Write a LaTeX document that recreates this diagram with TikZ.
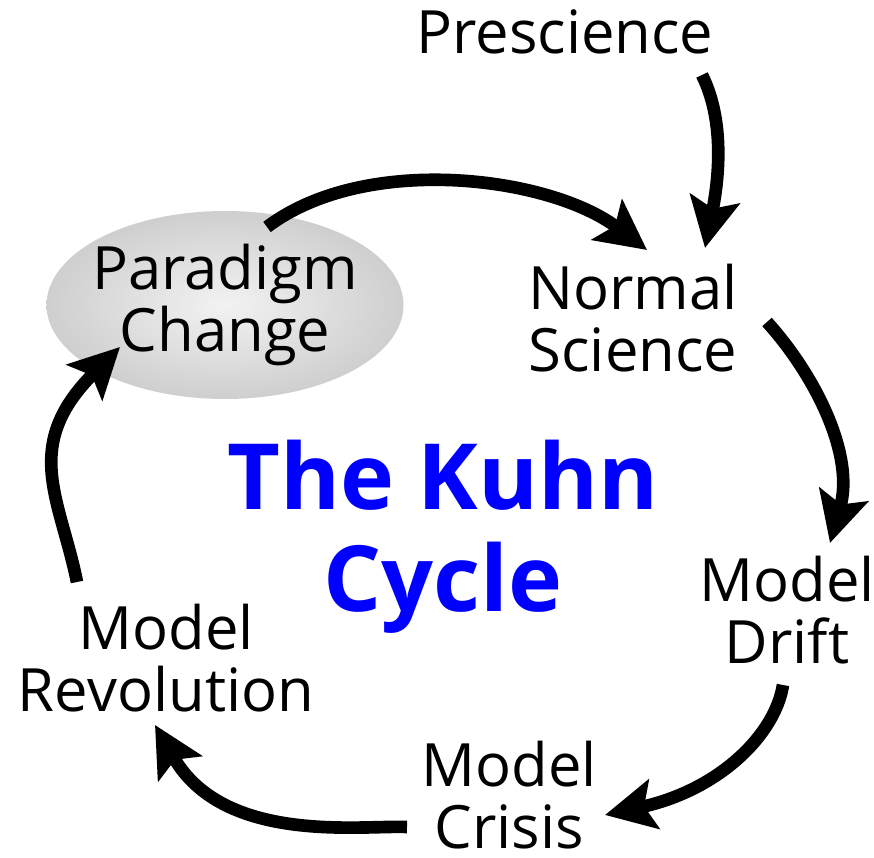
\documentclass[tikz,border=0pt]{standalone}
\usepackage{fontspec}
\setmainfont{Open Sans}
\usetikzlibrary{shapes.geometric,arrows.meta}
\begin{document}
\begin{tikzpicture}[
    lbl/.style={align=center,inner sep=0pt,font=\fontsize{17}{17.5}\selectfont},
    arr/.style={-{Stealth[length=5mm,width=5mm,inset=1mm]},line width=3.6pt},
  ]
  \useasboundingbox (0,0) rectangle (8.74,-8.58);
  \node[lbl] (pre) at (5.65,-0.32) {Prescience};
  \node[lbl] (normal) at (6.33,-3.18) {Normal\\Science};
  \node[lbl,ellipse,inner xsep=-0.15cm,minimum width=3.57cm,minimum height=1.88cm,shade,inner color=gray!10,outer color=gray!38] (paradigm) at (2.25,-3.05) {Paradigm\\Change};
  \node[align=center,inner sep=0pt,text=blue,font=\bfseries\fontsize{26}{29}\selectfont] (kuhn) at (4.43,-5.37) {The Kuhn\\Cycle};
  \node[lbl] (drift) at (7.87,-6.10) {Model\\Drift};
  \node[lbl] (crisis) at (5.09,-7.95) {Model\\Crisis};
  \node[lbl] (revol) at (1.66,-6.58) {Model\\Revolution};
  \draw[arr] ([shift={(1.37,-0.43)}]pre.center) .. controls +(0.25,-0.5) and +(0.12,0.6) .. ([shift={(0.72,0.70)}]normal.center);
  \draw[arr] ([shift={(0.42,0.78)}]paradigm.center) .. controls +(0.98,0.74) and +(-0.98,0.74) .. ([shift={(0.14,0.68)}]normal.center);
  \draw[arr] ([shift={(1.34,-0.04)}]normal.center) .. controls +(0.48,-0.53) and +(0.25,0.88) .. ([shift={(0.43,0.67)}]drift.center);
  \draw[arr] ([shift={(-0.04,-0.75)}]drift.center) .. controls +(-0.08,-0.50) and +(1.14,0.25) .. ([shift={(0.96,-0.20)}]crisis.center);
  \draw[arr] ([shift={(-1.02,-0.32)}]crisis.center) .. controls +(-0.45,0.02) and +(0.69,-1.20) .. ([shift={(-0.11,-0.67)}]revol.center);
  \draw[arr] ([shift={(-0.89,0.76)}]revol.center) .. controls +(-0.17,0.84) and +(-0.99,-0.99) .. ([shift={(-1.05,-0.42)}]paradigm.center);
\end{tikzpicture}
\end{document}
